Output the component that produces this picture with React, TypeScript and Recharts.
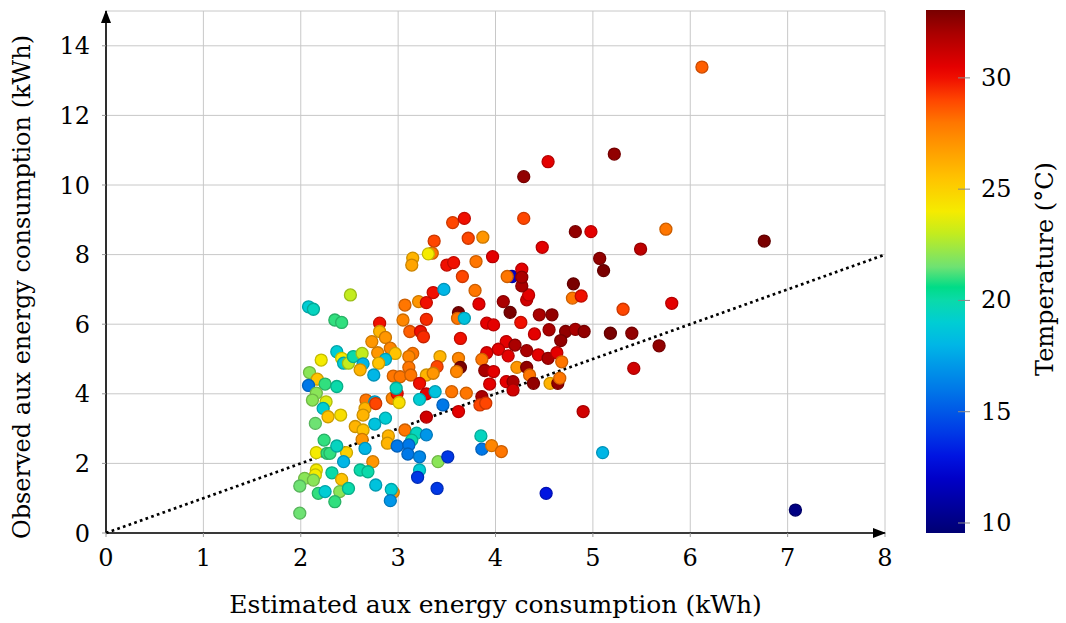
import React from "react";
import {
  ScatterChart,
  Scatter,
  XAxis,
  YAxis,
  CartesianGrid,
  ReferenceLine,
} from "recharts";

// Estimated aux energy (kWh), observed aux energy (kWh) and ambient temperature (°C)
const estimated = [
  2.08, 2.13, 2.21, 2.09, 2.17, 2.08, 2.25, 2.16, 2.12, 2.26, 2.23, 2.28, 2.15, 2.24, 2.16, 2.27, 2.16, 2.15, 2.04, 1.99,
  2.13, 2.18, 2.25, 1.99, 2.51, 2.35, 2.42, 2.81, 2.81, 2.87, 2.73, 2.92, 2.97, 2.37, 2.42, 2.44, 2.49, 2.54, 2.63, 2.64,
  2.79, 2.87, 2.8, 2.61, 2.75, 3.07, 3.21, 3.29, 3.36, 3.47, 3.05, 3.29, 3.62, 3.61, 3.68, 3.12, 3.23, 3.26, 3.64, 3.15,
  3.11, 3.43, 3.62, 3.11, 3.4, 3.64, 3.6, 2.95, 3.02, 3.13, 3.29, 3.36, 3.22, 2.94, 2.99, 2.98, 3.01, 3.29, 3.22, 3.38,
  3.55, 3.46, 3.62, 3.7, 3.29, 2.67, 2.76, 2.66, 2.64, 2.87, 2.76, 2.56, 2.64, 3.07, 3.19, 3.29, 2.9, 2.89, 2.63, 2.66,
  3.14, 2.99, 3.11, 3.1, 3.22, 3.41, 3.51, 2.74, 2.47, 2.44, 2.3, 2.37, 3.22, 3.2, 2.61, 2.69, 2.32, 2.42, 2.4, 2.35,
  2.49, 2.77, 2.95, 2.93, 2.92, 3.4, 2.37, 2.41, 3.79, 3.83, 4.08, 4.15, 4.32, 4.34, 4.27, 4.8, 4.79, 4.88, 4.45, 4.58,
  3.91, 3.98, 4.26, 4.4, 4.55, 4.72, 4.67, 4.82, 4.91, 4.11, 4.2, 4.03, 3.91, 3.86, 4.13, 4.32, 4.44, 4.54, 4.63, 4.68,
  3.89, 3.98, 4.22, 4.32, 4.35, 4.56, 4.64, 4.66, 4.39, 3.94, 4.11, 4.18, 4.18, 3.86, 3.84, 3.9, 4.9, 3.85, 3.86, 3.96,
  4.06, 5.1, 4.52, 4.17, 5.31, 5.81, 5.18, 5.4, 5.68, 5.42, 7.08, 3.56, 3.68, 3.72, 3.37, 3.35, 3.31, 3.15, 3.14, 3.5,
  3.57, 3.66, 4.54, 4.29, 4.29, 4.82, 4.98, 3.87, 4.48, 3.97, 3.8, 5.07, 5.11, 4.12, 4.27, 4.27, 6.12, 5.22, 5.75, 5.49,
  6.76, 2.77,
];

const observed = [
  6.5, 6.43, 4.97, 4.61, 4.42, 4.24, 4.28, 4.02, 3.82, 3.77, 3.58, 3.34, 3.15, 2.67, 2.31, 2.29, 1.81, 1.67, 1.57, 1.35,
  1.52, 1.14, 1.19, 0.57, 6.84, 6.12, 6.05, 6.03, 5.79, 5.62, 5.5, 5.31, 5.16, 5.21, 5.02, 4.88, 4.88, 5.07, 5.16, 4.86,
  5.18, 4.99, 4.88, 4.69, 4.54, 6.55, 6.65, 6.62, 6.91, 7.0, 6.12, 6.14, 6.33, 6.17, 6.17, 5.79, 5.79, 5.64, 5.59, 5.16,
  5.07, 5.07, 5.02, 4.76, 4.78, 4.76, 4.64, 4.51, 4.49, 4.54, 4.54, 4.59, 4.3, 3.87, 4.01, 4.16, 3.75, 4.0, 3.84, 4.06,
  4.06, 3.68, 3.49, 4.02, 3.33, 3.82, 3.77, 3.58, 3.39, 3.3, 3.13, 3.06, 2.96, 2.96, 2.87, 2.82, 2.79, 2.58, 2.69, 2.43,
  2.67, 2.5, 2.53, 2.27, 2.19, 2.05, 2.19, 2.05, 2.31, 2.05, 2.29, 2.5, 1.81, 1.6, 1.81, 1.76, 1.73, 1.54, 1.19, 0.9,
  1.28, 1.38, 1.17, 1.25, 0.93, 1.28, 4.21, 3.39, 6.97, 6.58, 6.65, 6.34, 6.7, 6.84, 7.1, 7.16, 6.75, 6.81, 6.27, 6.27,
  6.03, 5.98, 6.05, 5.72, 5.84, 5.79, 5.53, 5.85, 5.79, 5.5, 5.4, 5.28, 5.18, 4.99, 5.09, 5.24, 5.12, 5.02, 5.18, 4.92,
  4.67, 4.64, 4.76, 4.76, 4.54, 4.3, 4.3, 4.45, 4.3, 4.28, 4.35, 4.35, 4.11, 3.92, 3.68, 3.73, 3.49, 2.79, 2.41, 2.51,
  2.34, 2.31, 1.14, 7.37, 6.43, 6.6, 5.74, 5.74, 5.38, 4.73, 0.66, 8.92, 9.04, 8.47, 8.39, 8.04, 8.02, 7.9, 7.7, 7.7,
  7.77, 7.37, 10.67, 10.24, 9.04, 8.66, 8.66, 8.5, 8.21, 7.94, 7.8, 7.89, 7.54, 7.37, 7.58, 7.35, 13.39, 10.89, 8.73, 8.16,
  8.39, 3.72,
];

const temperature = [
  19, 19.5, 24, 22, 25.5, 16, 21, 22, 22, 23.5, 19, 25.5, 21.5, 21, 24, 21, 24, 24, 22, 21.5,
  22, 21, 19, 21.5, 23, 21, 21, 30, 26, 27, 27, 27.5, 25.5, 19, 24, 19, 23, 20, 23, 18,
  27, 18.5, 25.5, 26, 18, 28, 27, 30, 30, 18, 27.5, 29.5, 33, 28, 18.5, 28.5, 30, 29.5, 30, 28,
  27.5, 26, 27.5, 28, 29, 33, 27.5, 28, 28, 28, 26, 27, 30, 27.5, 30, 19.5, 24.5, 30.5, 19, 18.5,
  28, 16, 30.5, 28, 31, 28, 18, 26, 26, 19, 18.5, 26, 25.5, 28, 19.5, 17, 26, 26, 27, 18,
  20, 16, 16, 16, 16.5, 22, 14, 27, 25, 18, 21, 19.5, 19, 14, 20, 20, 20, 25.5, 22, 21,
  20, 18.5, 27, 19, 17, 14, 20, 24.5, 28, 30.5, 32, 33, 31, 30.5, 32, 33, 28, 30, 32, 32.5,
  30.5, 30.5, 30, 30.5, 32, 32.5, 32.5, 32, 32.5, 30.5, 32, 30.5, 30.5, 28, 30.5, 32, 30.5, 32, 30.5, 28,
  32, 30.5, 27, 32.5, 28, 26, 32.5, 28, 32.5, 30.5, 30.5, 32, 31, 32, 29, 29, 31, 19.5, 16, 27.5,
  28, 18, 13, 12, 29, 30.5, 33, 32.5, 32.5, 31, 10, 29, 30, 29, 29, 28, 24, 26, 26.5, 30,
  30, 29, 30.5, 32.5, 29, 32.5, 30.5, 27, 30.5, 30.5, 28, 32.5, 33, 28, 30.5, 32, 28.5, 32.5, 28, 31.5,
  33, 29,
];

const xTicks = [0, 1, 2, 3, 4, 5, 6, 7, 8];
const yTicks = [0, 2, 4, 6, 8, 10, 12, 14];
const barTicks = [10, 15, 20, 25, 30];

const T_MIN = 9.55;
const T_MAX = 33.05;

// colour stops of the temperature colormap: [°C, r, g, b]
const stops: [number, number, number, number][] = [
  [9.55, 0, 0, 115],
  [12, 0, 0, 200],
  [13, 0, 20, 225],
  [14, 0, 55, 230],
  [16, 0, 120, 232],
  [17, 0, 150, 232],
  [18, 0, 182, 230],
  [19, 0, 205, 212],
  [20, 10, 218, 170],
  [20.6, 0, 220, 135],
  [21.5, 110, 226, 115],
  [23, 195, 236, 30],
  [24, 245, 235, 0],
  [25.5, 255, 195, 0],
  [27, 255, 150, 0],
  [28, 255, 118, 0],
  [29, 255, 70, 0],
  [30, 240, 15, 0],
  [30.5, 228, 0, 0],
  [32, 170, 0, 0],
  [33.05, 120, 0, 0],
];

const mapColor = (t: number, k = 1) => {
  let i = 0;
  while (i < stops.length - 2 && t > stops[i + 1][0]) i++;
  const a = stops[i];
  const b = stops[i + 1];
  const f = Math.max(0, Math.min(1, (t - a[0]) / (b[0] - a[0])));
  const c = [1, 2, 3].map((j) => Math.round((a[j] + (b[j] - a[j]) * f) * k));
  return `rgb(${c[0]},${c[1]},${c[2]})`;
};

const points = estimated.map((x, i) => ({ x, y: observed[i], t: temperature[i] }));

const FONT = "DejaVu Serif";

const Dot = (props: any) => {
  const { cx, cy, payload } = props;
  if (cx == null || cy == null) return null;
  return (
    <circle
      cx={cx}
      cy={cy}
      r={6}
      fill={mapColor(payload.t)}
      stroke={mapColor(payload.t, 0.8)}
      strokeWidth={1.3}
    />
  );
};

// plot box (pixels) used for the overlay decorations
const LEFT = 106;
const RIGHT = 885;
const TOP = 11;
const BOTTOM = 533;

const BAR_X = 926;
const BAR_W = 39;
const barY = (t: number) => BOTTOM - ((t - T_MIN) / (T_MAX - T_MIN)) * (BOTTOM - TOP + 1);

export default function App() {
  return (
    <div style={{ position: "absolute", left: 0, top: 0, width: 1066, height: 623, background: "#fff" }}>
      <ScatterChart
        width={1066}
        height={623}
        margin={{ top: TOP, right: 1066 - RIGHT, bottom: 0, left: 0 }}
      >
        <CartesianGrid stroke="#c8c8c8" strokeWidth={1} />
        <XAxis
          type="number"
          dataKey="x"
          domain={[0, 8]}
          ticks={xTicks}
          height={623 - BOTTOM}
          axisLine={{ stroke: "#000", strokeWidth: 1.6 }}
          tickLine={{ stroke: "#999" }}
          tickSize={4}
          tickMargin={12}
          tick={{ fill: "#000", fontSize: 24, fontFamily: FONT }}
          label={{
            value: "Estimated aux energy consumption (kWh)",
            position: "insideBottom",
            offset: 10,
            fill: "#000",
            fontSize: 25,
            fontFamily: FONT,
          }}
        />
        <YAxis
          type="number"
          dataKey="y"
          domain={[0, 15]}
          ticks={yTicks}
          width={LEFT}
          axisLine={{ stroke: "#000", strokeWidth: 1.6 }}
          tickLine={{ stroke: "#999" }}
          tickSize={4}
          tickMargin={12}
          tick={{ fill: "#000", fontSize: 24, fontFamily: FONT }}
          label={{
            content: () => (
              <text
                x={22}
                y={287}
                transform="rotate(-90 22 287)"
                textAnchor="middle"
                dominantBaseline="central"
                fill="#000"
                fontSize={24}
                fontFamily={FONT}
              >
                Observed aux energy consumption (kWh)
              </text>
            ),
          }}
        />
        <Scatter data={points} shape={Dot} isAnimationActive={false} />
        <ReferenceLine
          segment={[
            { x: 0, y: 0 },
            { x: 8, y: 8 },
          ]}
          stroke="#000"
          strokeWidth={2.7}
          strokeDasharray="2.7 3.3"
        />
      </ScatterChart>

      <svg
        width={1066}
        height={623}
        style={{ position: "absolute", left: 0, top: 0, pointerEvents: "none" }}
      >
        <defs>
          <linearGradient id="tempBar" x1="0" y1="1" x2="0" y2="0">
            {stops.map((s) => (
              <stop
                key={s[0]}
                offset={(s[0] - T_MIN) / (T_MAX - T_MIN)}
                stopColor={`rgb(${s[1]},${s[2]},${s[3]})`}
              />
            ))}
          </linearGradient>
        </defs>
        {/* axis arrow heads */}
        <path d={`M${RIGHT + 1},${BOTTOM} L${RIGHT - 12},${BOTTOM - 5} L${RIGHT - 12},${BOTTOM + 5} Z`} fill="#000" />
        <path d={`M${LEFT},${TOP - 1} L${LEFT - 5},${TOP + 12} L${LEFT + 5},${TOP + 12} Z`} fill="#000" />

        {/* colour bar */}
        <rect x={BAR_X} y={TOP - 1} width={BAR_W} height={BOTTOM - TOP + 1} fill="url(#tempBar)" />
        {barTicks.map((t) => (
          <g key={t}>
            <line x1={BAR_X + BAR_W - 7} x2={BAR_X + BAR_W + 5} y1={barY(t)} y2={barY(t)} stroke="#888" />
            <text
              x={BAR_X + BAR_W + 16}
              y={barY(t)}
              dominantBaseline="central"
              fill="#000"
              fontSize={24}
              fontFamily={FONT}
            >
              {t}
            </text>
          </g>
        ))}
        <text
          x={1045}
          y={269}
          transform="rotate(-90 1045 269)"
          textAnchor="middle"
          dominantBaseline="central"
          fill="#000"
          fontSize={24}
          fontFamily={FONT}
        >
          Temperature (°C)
        </text>
      </svg>
    </div>
  );
}
